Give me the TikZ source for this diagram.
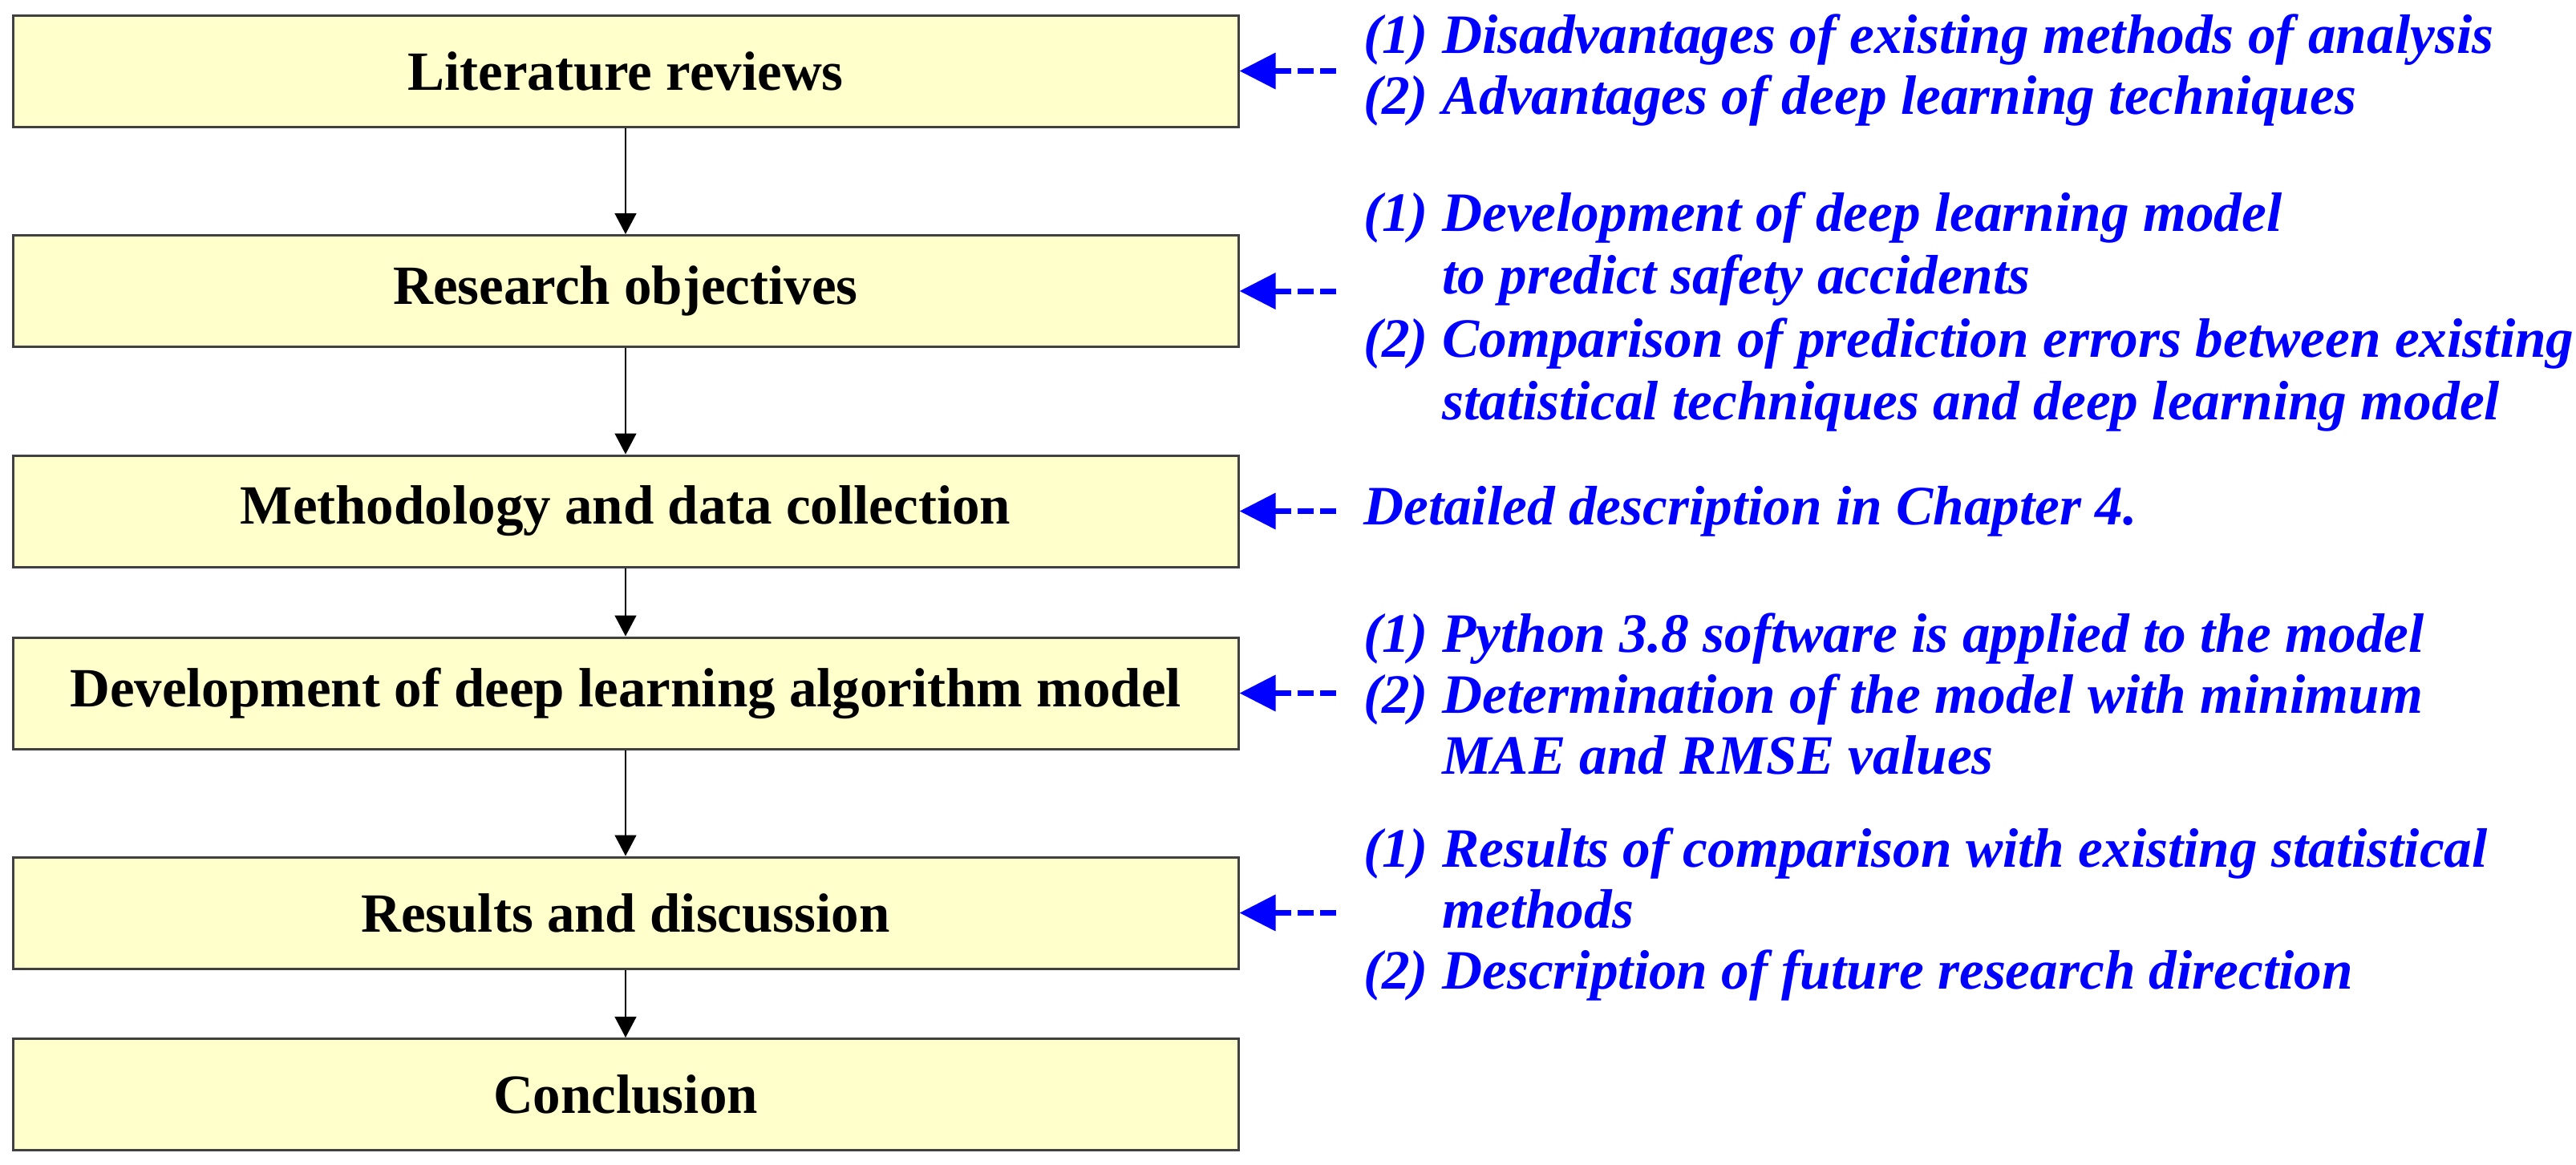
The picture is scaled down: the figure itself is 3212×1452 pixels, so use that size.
\documentclass[tikz,border=0pt]{standalone}
\usepackage{fontspec}
\setmainfont{Liberation Serif}
\usetikzlibrary{arrows.meta}
\definecolor{boxfill}{HTML}{FFFFCC}
\definecolor{boxline}{HTML}{404040}
\definecolor{noteblue}{HTML}{0000FF}
\tikzset{
 stagebox/.style={draw=boxline, line width=3pt, fill=boxfill, minimum width=1528pt, minimum height=139pt, inner sep=0pt, font=\fontsize{69}{76}\selectfont\bfseries},
 note/.style={anchor=west, align=left, inner sep=0pt, text=noteblue, font=\fontsize{69.3}{76}\selectfont\bfseries\itshape},
 widenote/.style={note, font=\fontsize{69.3}{78.5}\selectfont\bfseries\itshape},
 flow/.style={-{Triangle[length=26pt,width=27pt]}, line width=1.5pt, black},
 feed/.style={-{Triangle[length=45pt,width=44pt]}, line width=7pt, noteblue, dash pattern=on 20pt off 8pt},
}
\begin{document}
\begin{tikzpicture}[x=1pt,y=-1pt]
\useasboundingbox (0,0) rectangle (3212,1452);
\node[stagebox] (b1) at (780,88.5) {Literature reviews};
\node[stagebox] (b2) at (780,363) {Research objectives};
\node[stagebox] (b3) at (780,637.5) {Methodology and data collection};
\node[stagebox] (b4) at (780,864.5) {Development of deep learning algorithm model};
\node[stagebox] (b5) at (780,1138.5) {Results and discussion};
\node[stagebox] (b6) at (780,1365) {Conclusion};
\draw[flow] (b1) -- (b2);
\draw[flow] (b2) -- (b3);
\draw[flow] (b3) -- (b4);
\draw[flow] (b4) -- (b5);
\draw[flow] (b5) -- (b6);
\coordinate (f1) at (1666,88.5);
\coordinate (f2) at (1666,363);
\coordinate (f3) at (1666,637.5);
\coordinate (f4) at (1666,864.5);
\coordinate (f5) at (1666,1138.5);
\draw[feed] (f1) -- (b1.east);
\draw[feed] (f2) -- (b2.east);
\draw[feed] (f3) -- (b3.east);
\draw[feed] (f4) -- (b4.east);
\draw[feed] (f5) -- (b5.east);
\node[note] (n1) at (1700,87) {(1) Disadvantages of existing methods of analysis\\(2) Advantages of deep learning techniques};
\node[widenote] (n2) at (1700,389) {(1) Development of deep learning model\\\hphantom{(1) }to predict safety accidents\\(2) Comparison of prediction errors between existing\\\hphantom{(1) }statistical techniques and deep learning model};
\node[note] (n3) at (1700,637.5) {Detailed description in Chapter 4.};
\node[note] (n4) at (1700,865) {(1) Python 3.8 software is applied to the model\\(2) Determination of the model with minimum\\\hphantom{(1) }MAE and RMSE values};
\node[note] (n5) at (1700,1140) {(1) Results of comparison with existing statistical\\\hphantom{(1) }methods\\(2) Description of future research direction};
\end{tikzpicture}
\end{document}
